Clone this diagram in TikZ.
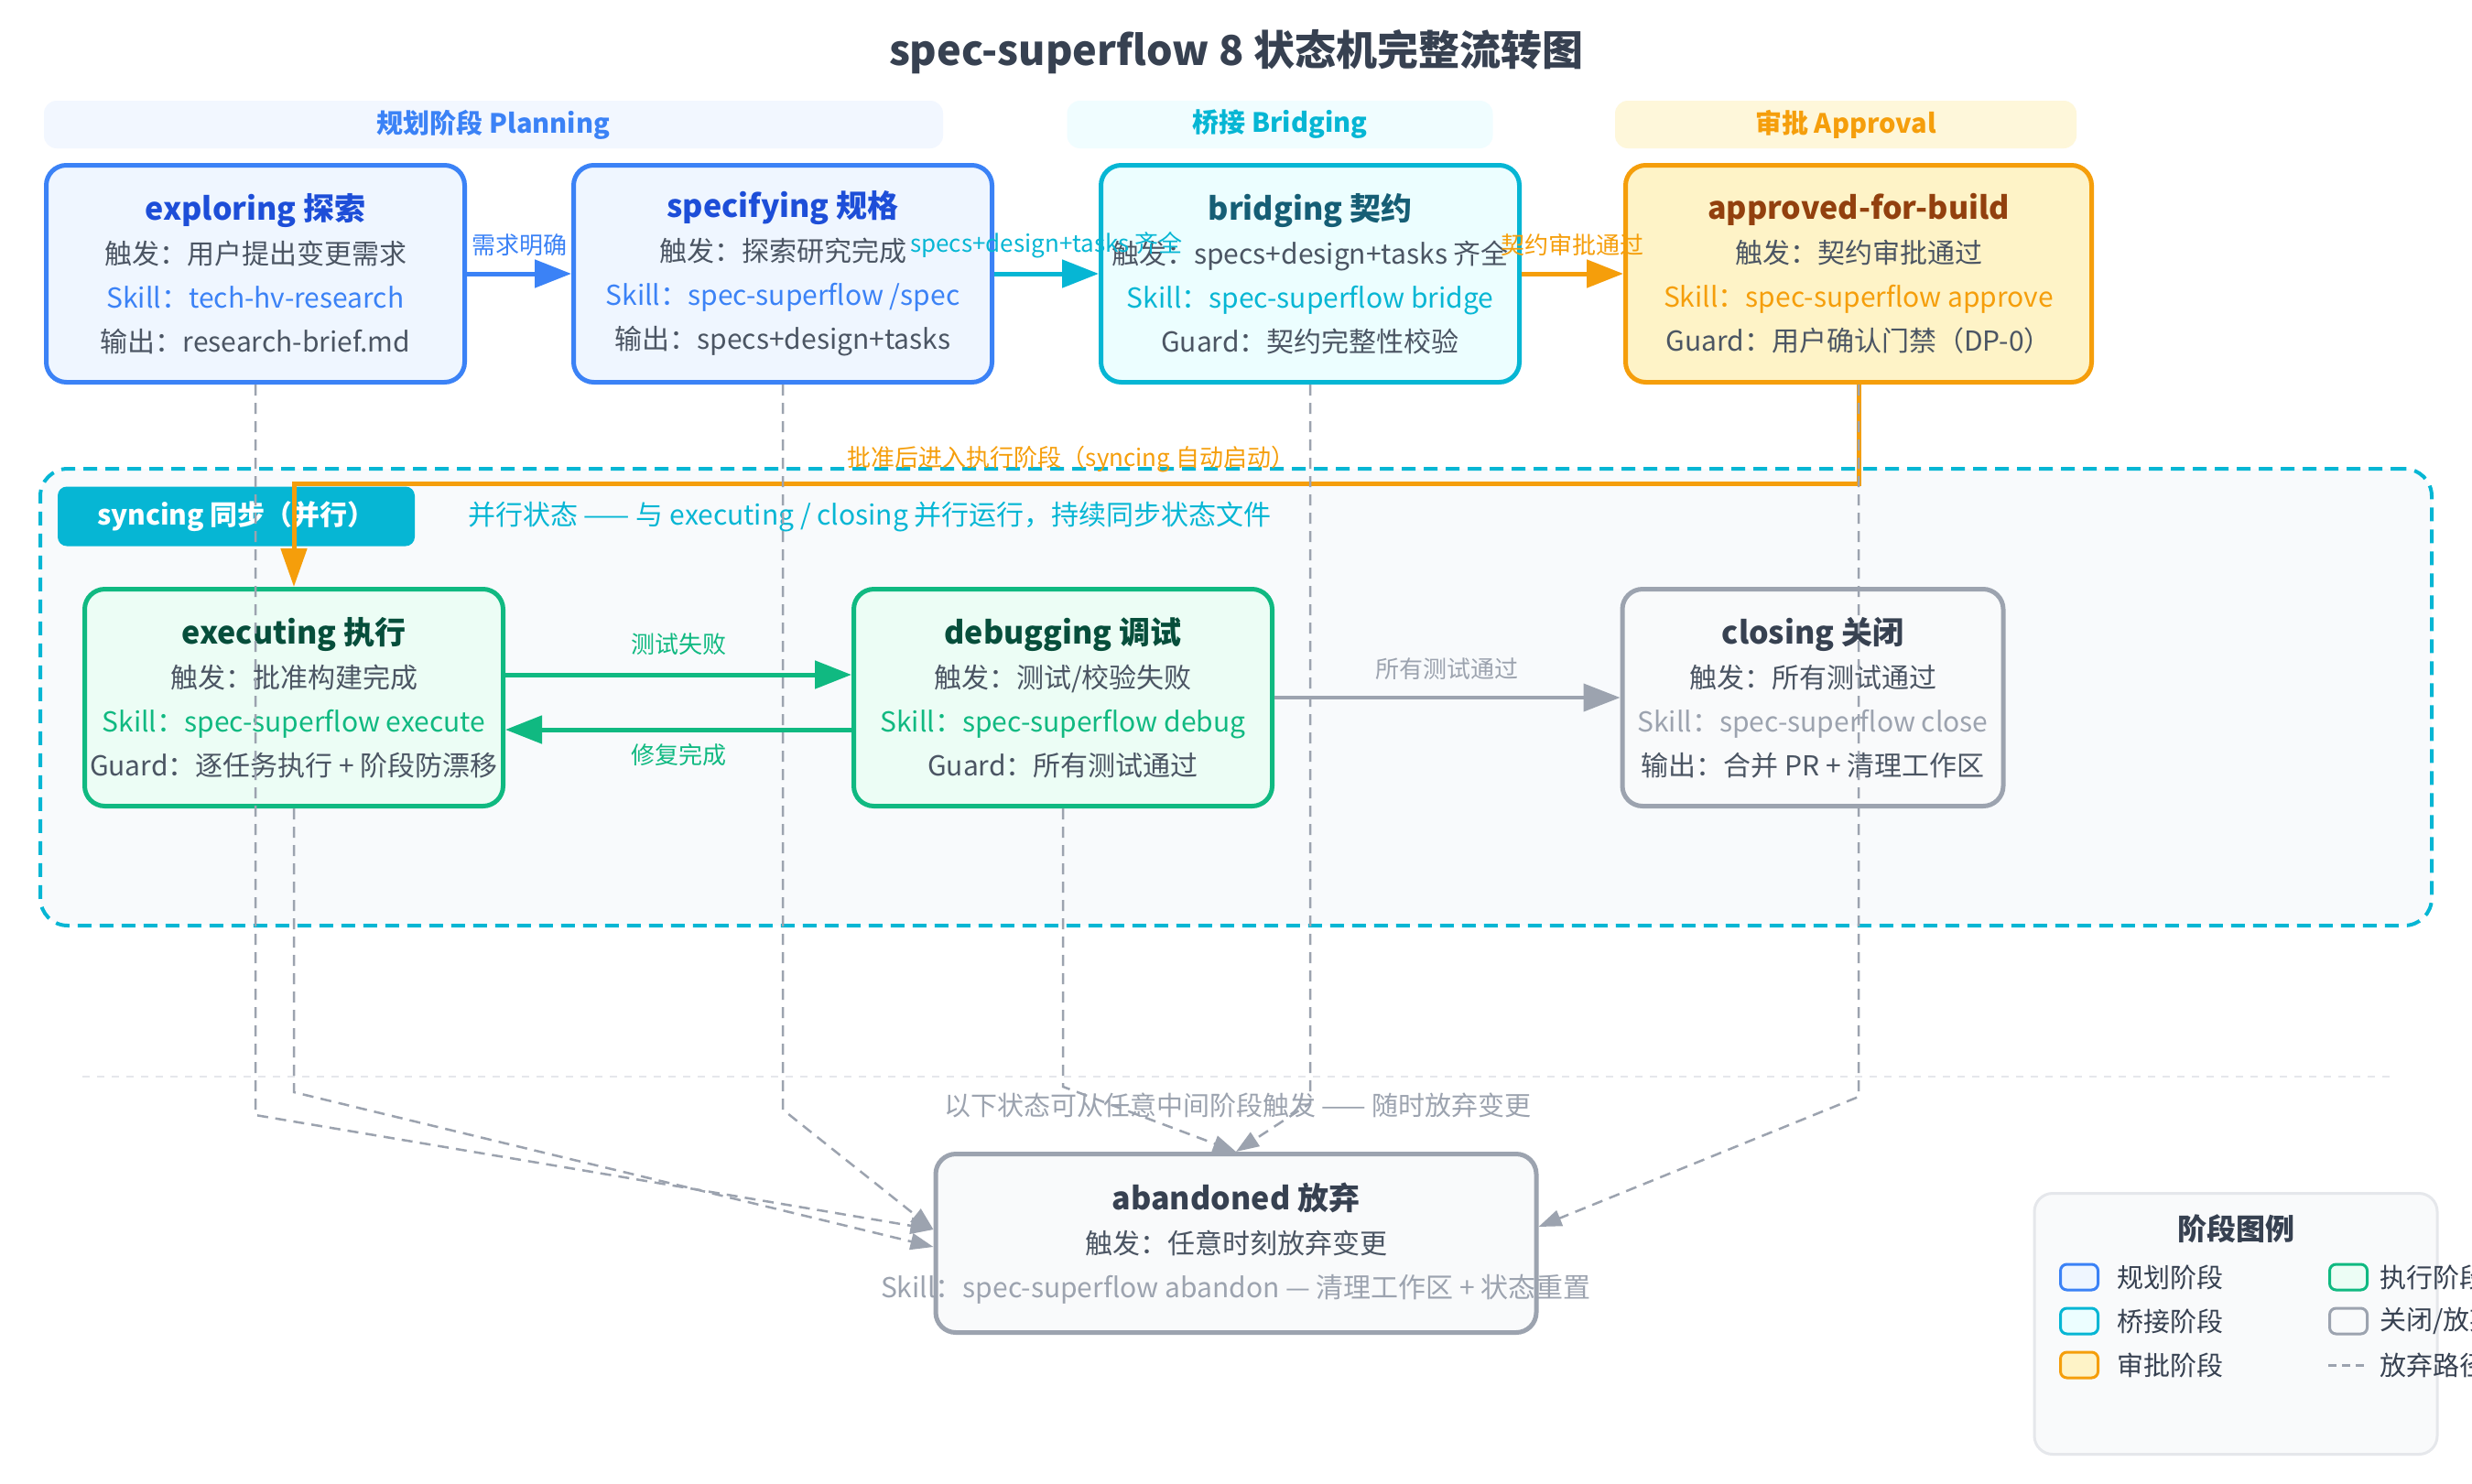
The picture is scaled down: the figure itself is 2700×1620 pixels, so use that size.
\documentclass[tikz,border=0pt]{standalone}
\usepackage{fontspec}
\setmainfont{Noto Sans CJK SC}
\usetikzlibrary{arrows.meta}
\definecolor{planblue}{HTML}{3B82F6}
\definecolor{planfill}{HTML}{EFF6FF}
\definecolor{plandark}{HTML}{1D4ED8}
\definecolor{planband}{HTML}{F2F7FF}
\definecolor{bridgecyan}{HTML}{06B6D4}
\definecolor{bridgefill}{HTML}{ECFEFF}
\definecolor{bridgedark}{HTML}{155E75}
\definecolor{bridgeband}{HTML}{F0FDFF}
\definecolor{approveorange}{HTML}{F59E0B}
\definecolor{approvefill}{HTML}{FEF3C7}
\definecolor{approvedark}{HTML}{92400E}
\definecolor{approveband}{HTML}{FEF7DA}
\definecolor{execgreen}{HTML}{10B981}
\definecolor{execfill}{HTML}{ECFDF5}
\definecolor{execdark}{HTML}{064E3B}
\definecolor{closegray}{HTML}{9CA3AF}
\definecolor{closefill}{HTML}{F9FAFB}
\definecolor{titlegray}{HTML}{374151}
\definecolor{bodygray}{HTML}{4B5563}
\definecolor{syncfill}{HTML}{F8FAFC}
\definecolor{sepgray}{HTML}{E5E7EB}
\newcommand{\boxtitle}[2]{{\fontsize{34}{48}\selectfont\bfseries\color{#1}#2}}

\begin{document}
\begin{tikzpicture}[x=1pt,y=-1pt,
	statebox/.style={draw,rounded corners=22pt,line width=5pt,inner sep=0pt,align=center,text=bodygray,font=\fontsize{30}{48}\selectfont,minimum width=457pt,minimum height=237pt},
	planbox/.style={statebox,draw=planblue,fill=planfill},
	bridgebox/.style={statebox,draw=bridgecyan,fill=bridgefill},
	approvebox/.style={statebox,draw=approveorange,fill=approvefill,minimum width=509pt},
	execbox/.style={statebox,draw=execgreen,fill=execfill},
	closebox/.style={statebox,draw=closegray,fill=closefill},
	band/.style={rounded corners=14pt,minimum height=52pt,inner sep=0pt,font=\fontsize{29}{34}\selectfont\bfseries},
	flowarrow/.style={line width=5pt,-{Triangle[length=40pt,width=30pt]}},
	giveup/.style={draw=closegray,line width=2.5pt,dash pattern=on 12pt off 8pt,-{Triangle[length=25pt,width=18pt]}},
	edgetext/.style={font=\fontsize{26}{30}\selectfont,inner sep=0pt},
	swatch/.style={draw,line width=3pt,rounded corners=7pt,minimum width=41pt,minimum height=28pt,inner sep=0pt},
	legendtext/.style={anchor=west,inner sep=0pt,text=titlegray,font=\fontsize{29}{34}\selectfont}
	]
	\useasboundingbox (0,0) rectangle (2700,1620);
	\fill[white] (0,0) rectangle (2700,1620);
	\node[font=\fontsize{45}{54}\selectfont\bfseries,text=titlegray] (title) at (1350,57) {spec-superflow 8 状态机完整流转图};

	\node[band,fill=planband,text=planblue,minimum width=982pt] (planning) at (539,136) {规划阶段 Planning};
	\node[band,fill=bridgeband,text=bridgecyan,minimum width=465pt] (bridging) at (1398,136) {桥接 Bridging};
	\node[band,fill=approveband,text=approveorange,minimum width=504pt] (approval) at (2016,136) {审批 Approval};

	\node[planbox] (explore) at (279,299) {\boxtitle{plandark}{exploring 探索}\\ 触发：用户提出变更需求\\ \textcolor{planblue}{Skill：tech-hv-research}\\ 输出：research-brief.md};
	\node[planbox] (spec) at (855,299) {\boxtitle{plandark}{specifying 规格}\\ 触发：探索研究完成\\ \textcolor{planblue}{Skill：spec-superflow /spec}\\ 输出：specs+design+tasks};
	\node[bridgebox] (bridge) at (1431,299) {\boxtitle{bridgedark}{bridging 契约}\\ 触发：specs+design+tasks 齐全\\ \textcolor{bridgecyan}{Skill：spec-superflow bridge}\\ Guard：契约完整性校验};
	\node[approvebox] (approve) at (2030,299) {\boxtitle{approvedark}{approved-for-build}\\ 触发：契约审批通过\\ \textcolor{approveorange}{Skill：spec-superflow approve}\\ Guard：用户确认门禁（DP-0）};

	\draw[flowarrow,planblue] (explore) -- (spec) node[edgetext,midway,yshift=31pt,text=planblue] (clear) {需求明确};
	\draw[flowarrow,bridgecyan] (spec) -- (bridge) node[edgetext,midway,yshift=31pt,text=bridgecyan] (ready) {specs+design+tasks 齐全};
	\draw[flowarrow,approveorange] (bridge) -- (approve) node[edgetext,midway,yshift=31pt,text=approveorange] (signed) {契约审批通过};

	\node[draw=bridgecyan,fill=syncfill,line width=4pt,dash pattern=on 15pt off 9pt,rounded corners=30pt,minimum width=2612pt,minimum height=499pt] (syncarea) at (1350,761.5) {};
	\node[fill=bridgecyan,text=white,rounded corners=10pt,minimum width=390pt,minimum height=65pt,inner sep=0pt,font=\fontsize{30}{36}\selectfont\bfseries] (synctag) at (258,564) {syncing 同步（并行）};
	\node[anchor=west,inner sep=0pt,text=bridgecyan,font=\fontsize{30}{34}\selectfont] (syncnote) at (511,565) {并行状态 —— 与 executing / closing 并行运行，持续同步状态文件};

	\node[execbox] (exec) at (321,762) {\boxtitle{execdark}{executing 执行}\\ 触发：批准构建完成\\ \textcolor{execgreen}{Skill：spec-superflow execute}\\ Guard：逐任务执行 + 阶段防漂移};
	\node[execbox] (debug) at (1161,762) {\boxtitle{execdark}{debugging 调试}\\ 触发：测试/校验失败\\ \textcolor{execgreen}{Skill：spec-superflow debug}\\ Guard：所有测试通过};
	\node[closebox,minimum width=416pt] (close) at (1980,762) {\boxtitle{titlegray}{closing 关闭}\\ 触发：所有测试通过\\ \textcolor{closegray}{Skill：spec-superflow close}\\ 输出：合并 PR + 清理工作区};

	\draw[flowarrow,execgreen] ([yshift=25pt]exec.east) -- ([yshift=25pt]debug.west) node[edgetext,midway,yshift=33pt,text=execgreen] (fail) {测试失败};
	\draw[flowarrow,execgreen] ([yshift=-35pt]debug.west) -- ([yshift=-35pt]exec.east) node[edgetext,midway,yshift=-28pt,text=execgreen] (fixed) {修复完成};
	\draw[flowarrow,line width=4pt,closegray] (debug) -- (close) node[edgetext,midway,yshift=31pt,text=closegray] (pass) {所有测试通过};

	\draw[flowarrow,approveorange,-{Triangle[length=42pt,width=28pt]}] (approve.south) -- ++(0,108) -| (exec.north);
	\node[edgetext,text=approveorange] (golabel) at (1170,502) {批准后进入执行阶段（syncing 自动启动）};

	\draw[sepgray,line width=2.5pt,dash pattern=on 8pt off 8pt] (90,1176) -- (2610,1176);
	\node[text=closegray,font=\fontsize{29}{34}\selectfont] (anynote) at (1352,1207) {以下状态可从任意中间阶段触发 —— 随时放弃变更};

	\node[closebox,minimum width=656pt,minimum height=195pt] (abandon) at (1350,1358) {\boxtitle{titlegray}{abandoned 放弃}\\ 触发：任意时刻放弃变更\\ \makebox[0pt]{\textcolor{closegray}{Skill：spec-superflow abandon — 清理工作区 + 状态重置}}};

	\node[draw=sepgray,fill=closefill,line width=3pt,rounded corners=20pt,minimum width=440pt,minimum height=285pt] (legend) at (2442,1446) {};
	\node[text=titlegray,font=\fontsize{32}{38}\selectfont\bfseries] (lgtitle) at (2442,1342) {阶段图例};
	\node[swatch,draw=planblue,fill=planfill] (lgplan) at (2271,1395) {};
	\node[legendtext] (lgplantext) at (2312,1395) {规划阶段};
	\node[swatch,draw=bridgecyan,fill=bridgefill] (lgbridge) at (2271,1443) {};
	\node[legendtext] (lgbridgetext) at (2312,1443) {桥接阶段};
	\node[swatch,draw=approveorange,fill=approvefill] (lgapprove) at (2271,1491) {};
	\node[legendtext] (lgapprovetext) at (2312,1491) {审批阶段};
	\node[swatch,draw=execgreen,fill=execfill] (lgexec) at (2565,1395) {};
	\node[legendtext] (lgexectext) at (2599,1395) {执行阶段};
	\node[swatch,draw=closegray,fill=closefill] (lgclose) at (2565,1443) {};
	\node[legendtext] (lgclosetext) at (2599,1443) {关闭/放弃};
	\draw[closegray,line width=3pt,dash pattern=on 9pt off 6pt] (2543,1491) -- (2587,1491);
	\node[legendtext] (lggiveuptext) at (2599,1491) {放弃路径};

	\draw[giveup] (explore.south) -- ++(0,798) -- ([yshift=15pt]abandon.west);
	\draw[giveup] (spec.south) -- ++(0,792) -- ([yshift=15pt]abandon.west);
	\draw[giveup] (exec.south) -- ++(0,310) -- ([yshift=-4pt]abandon.west);
	\draw[giveup] (debug.south) -- ++(0,304) -- (abandon.north);
	\draw[giveup] (bridge.south) -- ++(0,785) -- (abandon.north);
	\draw[giveup] (approve.south) -- ++(0,778) -- ([yshift=18pt]abandon.east);
\end{tikzpicture}
\end{document}
